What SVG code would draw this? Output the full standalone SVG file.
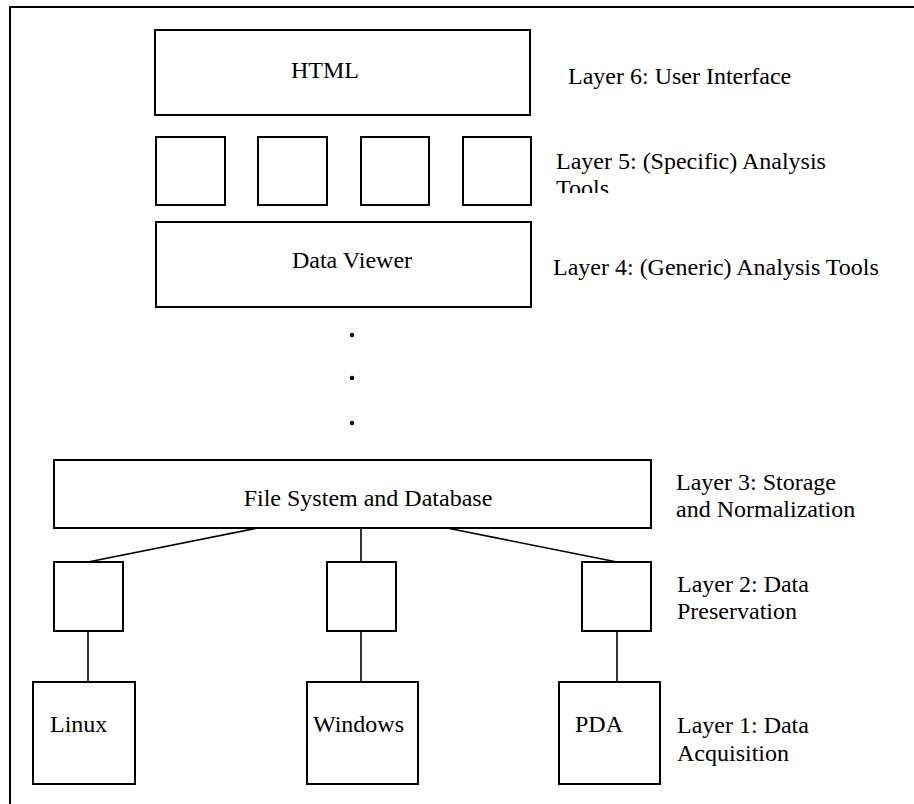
<svg xmlns="http://www.w3.org/2000/svg" width="914" height="804" viewBox="0 0 914 804">
<style>
  .box { fill: #fff; stroke: #000; stroke-width: 2; }
  .ln { stroke: #000; stroke-width: 1.6; fill: none; }
  text { font-family: "Liberation Serif", "Times New Roman", serif; font-size: 24px; fill: #000; }
  .mid { text-anchor: middle; }
</style>
<defs>
  <clipPath id="clip5"><rect x="540" y="140" width="300" height="53"/></clipPath>
</defs>
<rect x="0" y="0" width="914" height="804" fill="#fff"/>
<rect id="frame" x="10" y="7" width="930" height="830" fill="none" stroke="#000" stroke-width="2"/>

<g id="connectors">
  <line class="ln" x1="258" y1="528" x2="88" y2="562"/>
  <line class="ln" x1="361" y1="528" x2="361" y2="562"/>
  <line class="ln" x1="447" y1="528" x2="617" y2="562"/>
  <line class="ln" x1="88" y1="631" x2="88" y2="682"/>
  <line class="ln" x1="361" y1="631" x2="361" y2="682"/>
  <line class="ln" x1="617" y1="631" x2="617" y2="682"/>
</g>

<g id="html">
  <rect class="box" x="155" y="30" width="375" height="85"/>
  <text class="mid" x="325" y="78">HTML</text>
</g>
<text x="568" y="84">Layer 6: User Interface</text>

<g id="tool1"><rect class="box" x="156" y="137" width="69" height="68"/></g>
<g id="tool2"><rect class="box" x="258" y="137" width="69" height="68"/></g>
<g id="tool3"><rect class="box" x="361" y="137" width="68" height="68"/></g>
<g id="tool4"><rect class="box" x="463" y="137" width="68" height="68"/></g>
<g clip-path="url(#clip5)">
  <text x="556" y="168.5">Layer 5: (Specific) Analysis</text>
  <text x="556" y="195.5">Tools</text>
</g>

<g id="dataviewer">
  <rect class="box" x="156" y="222" width="375" height="85"/>
  <text class="mid" x="352" y="268">Data Viewer</text>
</g>
<text x="553" y="275">Layer 4: (Generic) Analysis Tools</text>

<g id="dots">
  <circle cx="352" cy="335" r="2.2" fill="#000"/>
  <circle cx="352" cy="378" r="2.2" fill="#000"/>
  <circle cx="352" cy="423" r="2.2" fill="#000"/>
</g>

<g id="fsdb">
  <rect class="box" x="54" y="460" width="597" height="68"/>
  <text class="mid" x="368" y="506">File System and Database</text>
</g>
<text x="676" y="490">Layer 3: Storage</text>
<text x="676" y="517">and Normalization</text>

<g id="pres1"><rect class="box" x="54" y="562" width="69" height="69"/></g>
<g id="pres2"><rect class="box" x="327" y="562" width="69" height="69"/></g>
<g id="pres3"><rect class="box" x="582" y="562" width="69" height="69"/></g>
<text x="677" y="592">Layer 2: Data</text>
<text x="677" y="619">Preservation</text>

<g id="linux">
  <rect class="box" x="33" y="682" width="102" height="102"/>
  <text x="50" y="732">Linux</text>
</g>
<g id="windows">
  <rect class="box" x="307" y="682" width="111" height="102"/>
  <text x="313" y="732">Windows</text>
</g>
<g id="pda">
  <rect class="box" x="559" y="682" width="101" height="102"/>
  <text x="575" y="732">PDA</text>
</g>
<text x="677" y="733">Layer 1: Data</text>
<text x="677" y="761">Acquisition</text>
</svg>
